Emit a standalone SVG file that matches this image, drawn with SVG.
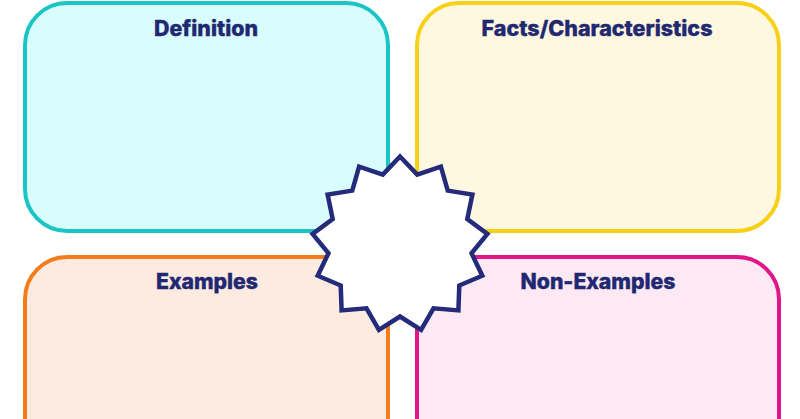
<svg xmlns="http://www.w3.org/2000/svg" width="800" height="419" viewBox="0 0 800 419">
<style>
.box{stroke-width:4}
.lbl{font-family:Inter,"Open Sans","Liberation Sans",sans-serif;font-weight:800;font-size:21px;fill:#1f2870;stroke:#1f2870;stroke-width:0.4;text-anchor:middle}
</style>
<rect width="800" height="419" fill="#ffffff"/>
<g id="definition">
<rect class="box" x="25" y="3" width="363" height="228" rx="42" fill="#d9fdfd" stroke="#1cc5c5"/>
<text class="lbl" x="206" y="36" textLength="104" lengthAdjust="spacingAndGlyphs">Definition</text>
</g>
<g id="facts">
<rect class="box" x="417" y="3" width="362" height="228" rx="42" fill="#fff8e1" stroke="#f7d117"/>
<text class="lbl" x="597" y="36" textLength="231" lengthAdjust="spacingAndGlyphs">Facts/Characteristics</text>
</g>
<g id="examples">
<rect class="box" x="25" y="257" width="363" height="220" rx="42" fill="#fdebe2" stroke="#f47c1a"/>
<text class="lbl" x="207" y="289" textLength="102" lengthAdjust="spacingAndGlyphs">Examples</text>
</g>
<g id="non-examples">
<rect class="box" x="417" y="257" width="362" height="220" rx="42" fill="#fde9f4" stroke="#e0168a"/>
<text class="lbl" x="598" y="289" textLength="155" lengthAdjust="spacingAndGlyphs">Non-Examples</text>
</g>
<g id="connectors"></g>
<g id="center">
<polygon points="400,156.5 417.2,174.6 440.9,166.6 447.7,190.6 472.4,194.5 467.3,219 487.4,233.9 471.5,253.2 482.3,275.7 459.3,285.4 458.4,310.4 433.5,308.3 421.1,329.9 400,316.5 378.9,329.9 366.5,308.3 341.6,310.4 340.7,285.4 317.7,275.7 328.5,253.2 312.6,233.9 332.7,219 327.6,194.5 352.3,190.6 359.1,166.6 382.8,174.6" fill="#ffffff" stroke="#232b7a" stroke-width="4.5" stroke-linejoin="miter"/>
</g>
</svg>
